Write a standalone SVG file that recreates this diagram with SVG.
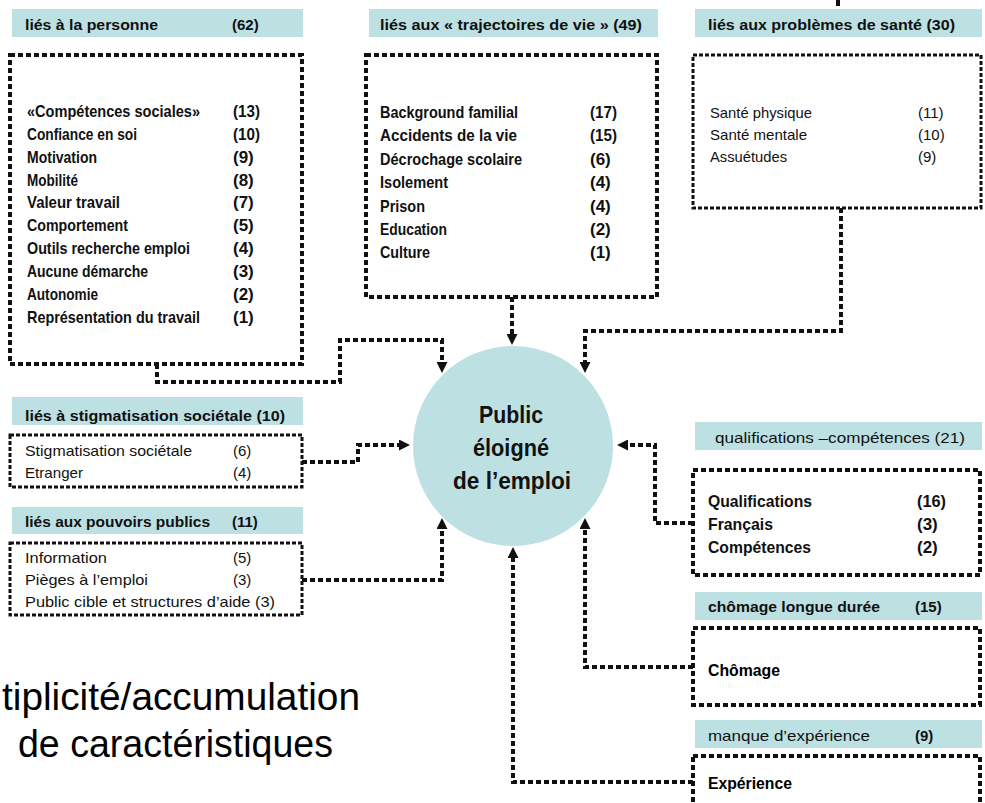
<svg xmlns="http://www.w3.org/2000/svg" width="985" height="803" viewBox="0 0 985 803">
<style>
.hdr{fill:#bde0e3}
.box{fill:#fff;stroke:#111;stroke-width:4;stroke-dasharray:5 3}
.thin{stroke-width:3;stroke-dasharray:4 2}
.conn{fill:none;stroke:#111;stroke-width:4;stroke-dasharray:5 3;marker-end:url(#arr)}
text{font-family:"Liberation Sans",Arial,sans-serif;fill:#111}
.h{font-size:15px;font-weight:bold}
.hn{font-size:15px;font-weight:normal}
.it{font-size:17px;font-weight:bold}
.lt{font-size:15px;font-weight:normal;fill:#222}
.bk{font-size:17px;font-weight:bold;fill:#000}
.ctr{font-size:23px;font-weight:bold;text-anchor:middle}
.big{font-size:38px;fill:#000}
</style>
<defs>
<marker id="arr" viewBox="0 0 10 10" refX="0" refY="5" markerWidth="11" markerHeight="11" markerUnits="userSpaceOnUse" orient="auto">
<path d="M0,0 L10,5 L0,10 z" fill="#111"/>
</marker>
</defs>
<rect width="985" height="803" fill="#fff"/>

<g id="connectors">
<path class="conn" d="M157 364 V382 H340 V340 H442 V362"/>
<path class="conn" d="M512 297 V334"/>
<path class="conn" d="M841 208 V331 H585 V362"/>
<path class="conn" d="M302 462 H358 V445 H399"/>
<path class="conn" d="M302 580 H442 V529"/>
<path class="conn" d="M693 523 H655 V445 H628"/>
<path class="conn" d="M693 667 H585 V529"/>
<path class="conn" d="M693 782 H513 V558"/>
<path d="M838 0 V6" stroke="#111" stroke-width="4" fill="none"/>
</g>

<g id="center">
<circle cx="513" cy="446" r="100" fill="#bde0e3"/>
<text class="ctr" x="511" y="423" textLength="64" lengthAdjust="spacingAndGlyphs">Public</text>
<text class="ctr" x="511" y="456" textLength="76" lengthAdjust="spacingAndGlyphs">éloigné</text>
<text class="ctr" x="512" y="489" textLength="118" lengthAdjust="spacingAndGlyphs">de l’emploi</text>
</g>

<g id="personne">
<rect class="hdr" x="12" y="9" width="291" height="28"/>
<text class="h" x="25" y="30" textLength="133" lengthAdjust="spacingAndGlyphs">liés à la personne</text>
<text class="h" x="232" y="30">(62)</text>
<rect class="box" x="10" y="55" width="292" height="309"/>
<g class="it">
<text x="27" y="117" textLength="173" lengthAdjust="spacingAndGlyphs">«Compétences sociales»</text>
<text x="27" y="140" textLength="110" lengthAdjust="spacingAndGlyphs">Confiance en soi</text>
<text x="27" y="163" textLength="70" lengthAdjust="spacingAndGlyphs">Motivation</text>
<text x="27" y="186" textLength="51" lengthAdjust="spacingAndGlyphs">Mobilité</text>
<text x="27" y="208" textLength="93" lengthAdjust="spacingAndGlyphs">Valeur travail</text>
<text x="27" y="231" textLength="101" lengthAdjust="spacingAndGlyphs">Comportement</text>
<text x="27" y="254" textLength="163" lengthAdjust="spacingAndGlyphs">Outils recherche emploi</text>
<text x="27" y="277" textLength="121" lengthAdjust="spacingAndGlyphs">Aucune démarche</text>
<text x="27" y="300" textLength="71" lengthAdjust="spacingAndGlyphs">Autonomie</text>
<text x="27" y="323" textLength="173" lengthAdjust="spacingAndGlyphs">Représentation du travail</text>
<text x="233" y="117" textLength="27" lengthAdjust="spacingAndGlyphs">(13)</text>
<text x="233" y="140" textLength="27" lengthAdjust="spacingAndGlyphs">(10)</text>
<text x="233" y="163">(9)</text>
<text x="233" y="186">(8)</text>
<text x="233" y="208">(7)</text>
<text x="233" y="231">(5)</text>
<text x="233" y="254">(4)</text>
<text x="233" y="277">(3)</text>
<text x="233" y="300">(2)</text>
<text x="233" y="323">(1)</text>
</g>
</g>

<g id="trajectoires">
<rect class="hdr" x="369" y="9" width="289" height="28"/>
<text class="h" x="380" y="30" textLength="262" lengthAdjust="spacingAndGlyphs">liés aux « trajectoires de vie » (49)</text>
<rect class="box" x="366" y="55" width="291" height="242"/>
<g class="it">
<text x="380" y="118" textLength="138" lengthAdjust="spacingAndGlyphs">Background familial</text>
<text x="380" y="141" textLength="137" lengthAdjust="spacingAndGlyphs">Accidents de la vie</text>
<text x="380" y="165" textLength="142" lengthAdjust="spacingAndGlyphs">Décrochage scolaire</text>
<text x="380" y="188" textLength="68" lengthAdjust="spacingAndGlyphs">Isolement</text>
<text x="380" y="212" textLength="45" lengthAdjust="spacingAndGlyphs">Prison</text>
<text x="380" y="235" textLength="67" lengthAdjust="spacingAndGlyphs">Education</text>
<text x="380" y="258" textLength="50" lengthAdjust="spacingAndGlyphs">Culture</text>
<text x="590" y="118" textLength="27" lengthAdjust="spacingAndGlyphs">(17)</text>
<text x="590" y="141" textLength="27" lengthAdjust="spacingAndGlyphs">(15)</text>
<text x="590" y="165">(6)</text>
<text x="590" y="188">(4)</text>
<text x="590" y="212">(4)</text>
<text x="590" y="235">(2)</text>
<text x="590" y="258">(1)</text>
</g>
</g>

<g id="sante">
<rect class="hdr" x="695" y="9" width="287" height="28"/>
<text class="h" x="708" y="30" textLength="247" lengthAdjust="spacingAndGlyphs">liés aux problèmes de santé (30)</text>
<rect class="box thin" x="693" y="55" width="288" height="153"/>
<g class="lt">
<text x="710" y="118" textLength="102" lengthAdjust="spacingAndGlyphs">Santé physique</text>
<text x="710" y="140" textLength="97" lengthAdjust="spacingAndGlyphs">Santé mentale</text>
<text x="710" y="162" textLength="77" lengthAdjust="spacingAndGlyphs">Assuétudes</text>
<text x="918" y="118">(11)</text>
<text x="918" y="140">(10)</text>
<text x="918" y="162">(9)</text>
</g>
</g>

<g id="stigmatisation">
<rect class="hdr" x="12" y="397" width="291" height="28"/>
<text class="h" x="25" y="421" textLength="260" lengthAdjust="spacingAndGlyphs">liés à stigmatisation sociétale (10)</text>
<rect class="box thin" x="10" y="435" width="292" height="52"/>
<g class="lt">
<text x="25" y="456" textLength="167" lengthAdjust="spacingAndGlyphs">Stigmatisation sociétale</text>
<text x="25" y="478" textLength="58" lengthAdjust="spacingAndGlyphs">Etranger</text>
<text x="233" y="456">(6)</text>
<text x="233" y="478">(4)</text>
</g>
</g>

<g id="pouvoirs">
<rect class="hdr" x="12" y="507" width="291" height="27"/>
<text class="h" x="25" y="527" textLength="185" lengthAdjust="spacingAndGlyphs">liés aux pouvoirs publics</text>
<text class="h" x="232" y="527">(11)</text>
<rect class="box thin" x="10" y="543" width="292" height="72"/>
<g class="lt">
<text x="25" y="563" textLength="82" lengthAdjust="spacingAndGlyphs">Information</text>
<text x="25" y="585" textLength="123" lengthAdjust="spacingAndGlyphs">Pièges à l’emploi</text>
<text x="25" y="607" textLength="250" lengthAdjust="spacingAndGlyphs">Public cible et structures d’aide (3)</text>
<text x="233" y="563">(5)</text>
<text x="233" y="585">(3)</text>
</g>
</g>

<g id="qualifications">
<rect class="hdr" x="695" y="422" width="287" height="28"/>
<text class="hn" x="715" y="443" textLength="250" lengthAdjust="spacingAndGlyphs">qualifications –compétences (21)</text>
<rect class="box" x="693" y="470" width="287" height="105"/>
<g class="bk">
<text x="708" y="507" textLength="104" lengthAdjust="spacingAndGlyphs">Qualifications</text>
<text x="708" y="530" textLength="65" lengthAdjust="spacingAndGlyphs">Français</text>
<text x="708" y="553" textLength="103" lengthAdjust="spacingAndGlyphs">Compétences</text>
<text x="917" y="507" textLength="29" lengthAdjust="spacingAndGlyphs">(16)</text>
<text x="917" y="530">(3)</text>
<text x="917" y="553">(2)</text>
</g>
</g>

<g id="chomage">
<rect class="hdr" x="695" y="592" width="287" height="28"/>
<text class="h" x="708" y="612" textLength="172" lengthAdjust="spacingAndGlyphs">chômage longue durée</text>
<text class="h" x="915" y="612">(15)</text>
<rect class="box" x="693" y="628" width="287" height="77"/>
<text class="bk" x="708" y="676" textLength="72" lengthAdjust="spacingAndGlyphs">Chômage</text>
</g>

<g id="experience">
<rect class="hdr" x="695" y="720" width="287" height="28"/>
<text class="hn" x="708" y="741" textLength="162" lengthAdjust="spacingAndGlyphs">manque d’expérience</text>
<text class="h" x="915" y="741">(9)</text>
<rect class="box" x="693" y="756" width="287" height="60"/>
<text class="bk" x="708" y="789" textLength="84" lengthAdjust="spacingAndGlyphs">Expérience</text>
</g>

<g id="caption">
<text class="big" x="2" y="710" textLength="358" lengthAdjust="spacingAndGlyphs">tiplicité/accumulation</text>
<text class="big" x="18" y="757" textLength="315" lengthAdjust="spacingAndGlyphs">de caractéristiques</text>
</g>
</svg>
